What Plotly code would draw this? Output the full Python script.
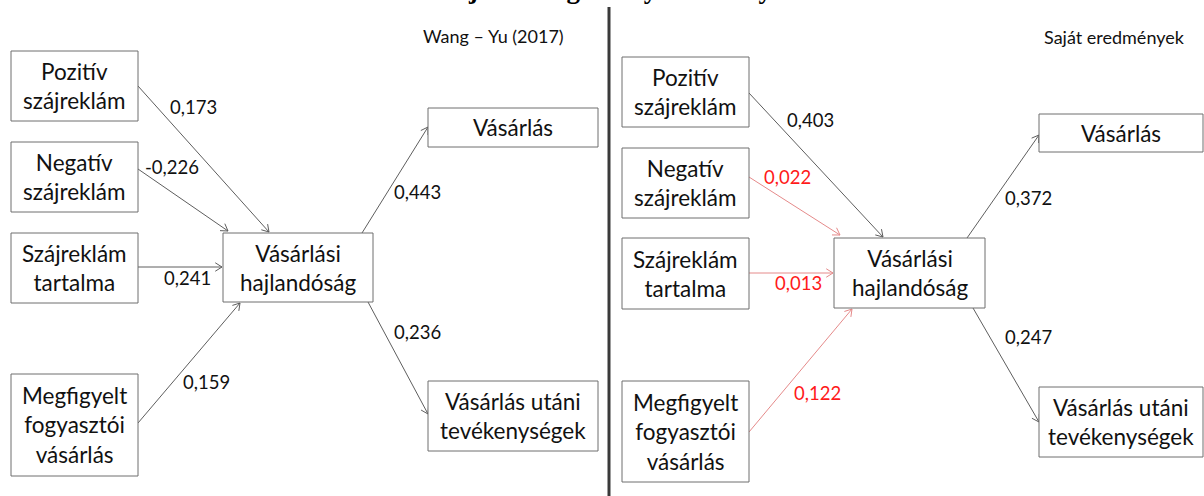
import math
import plotly.graph_objects as go

# ---------------- data ----------------
title_text = "A vásárlás – Vásárlási hajlandóság befolyásoló tényezői és hatása a vásárlásra"
panel_titles = ["Wang – Yu (2017)", "Saját eredmények"]
source_labels = ["Pozitív<br>szájreklám", "Negatív<br>szájreklám",
                 "Szájreklám<br>tartalma", "Megfigyelt<br>fogyasztói<br>vásárlás"]
mediator_label = "Vásárlási<br>hajlandóság"
outcome_labels = ["Vásárlás", "Vásárlás utáni<br>tevékenységek"]

wang_yu_in = [0.173, -0.226, 0.241, 0.159]
wang_yu_out = [0.443, 0.236]
own_in = [0.403, 0.022, 0.013, 0.122]
own_out = [0.372, 0.247]
own_in_significant = [True, False, False, False]

# ---------------- layout geometry (pixels) ----------------
W, H = 1204, 496
panels = [
    dict(
        src_boxes=[(11, 51, 138, 121), (11, 142, 138, 212), (11, 233, 138, 303), (11, 374, 138, 476)],
        med_box=(223, 233, 373, 302),
        out_boxes=[(428, 108, 598, 147), (428, 381, 598, 451)],
        in_edges=[((138, 86), (269, 232)), ((138, 169), (228, 231)), ((138, 267), (222, 267)), ((138, 423), (240, 303))],
        out_edges=[((362, 233), (428, 127)), ((368, 302), (428, 414))],
        in_lbl=[(193, 107), (172, 167), (187, 278), (206, 382)],
        out_lbl=[(417, 192), (417, 332)],
        title_pos=(566, 36, "right"),
    ),
    dict(
        src_boxes=[(622, 57, 749, 127), (622, 148, 749, 218), (622, 238, 749, 309), (622, 381, 749, 482)],
        med_box=(834, 238, 985, 308),
        out_boxes=[(1039, 114, 1203, 152), (1039, 387, 1203, 457)],
        in_edges=[((749, 93), (883, 237)), ((749, 177), (840, 235)), ((749, 273), (833, 273)), ((749, 432), (852, 309))],
        out_edges=[((967, 238), (1039, 135)), ((973, 308), (1039, 422))],
        in_lbl=[(810, 120), (787, 177), (798, 283), (817, 393)],
        out_lbl=[(1028, 198), (1028, 337)],
        title_pos=(1187, 37, "right"),
    ),
]

BOX_FONT = dict(family="Lato, 'Open Sans', sans-serif", size=22.5, color="#111111")
NUM_FONT = dict(family="Lato, 'Open Sans', sans-serif", size=18.5, color="#111111")
GRAY = "#5e5e5e"
RED_LINE = "#e58a8a"
RED_TEXT = "#ff1a1a"

fig = go.Figure()
shapes = []
annotations = []


def fmt(v):
    return f"{v:.3f}".replace(".", ",")


def add_box(box, label):
    x0, y0, x1, y1 = box
    shapes.append(dict(type="rect", xref="x", yref="y", x0=x0, y0=y0, x1=x1, y1=y1,
                       line=dict(color="#6e6e6e", width=1), fillcolor="white", layer="above"))
    annotations.append(dict(x=(x0 + x1) / 2, y=(y0 + y1) / 2, xref="x", yref="y", text=label,
                            showarrow=False, font=BOX_FONT, xanchor="center", yanchor="middle"))


def add_arrow(tail, head, color):
    (tx, ty), (hx, hy) = tail, head
    shapes.append(dict(type="line", xref="x", yref="y", x0=tx, y0=ty, x1=hx, y1=hy,
                       line=dict(color=color, width=1)))
    ang = math.atan2(hy - ty, hx - tx)
    L, a = 8, math.radians(32)
    p1 = (hx - L * math.cos(ang - a), hy - L * math.sin(ang - a))
    p2 = (hx - L * math.cos(ang + a), hy - L * math.sin(ang + a))
    shapes.append(dict(type="path", xref="x", yref="y",
                       path=f"M{p1[0]:.2f},{p1[1]:.2f} L{hx},{hy} L{p2[0]:.2f},{p2[1]:.2f}",
                       line=dict(color=color, width=1)))


def add_num(pos, value, color):
    annotations.append(dict(x=pos[0], y=pos[1], xref="x", yref="y", text=fmt(value), showarrow=False,
                            font=dict(NUM_FONT, color=color), xanchor="center", yanchor="middle"))


datasets = [
    (wang_yu_in, wang_yu_out, [True] * 4),
    (own_in, own_out, own_in_significant),
]

for p, (vin, vout, sig), ptitle in zip(panels, datasets, panel_titles):
    for i, lab in enumerate(source_labels):
        color_line = GRAY if sig[i] else RED_LINE
        color_txt = "#111111" if sig[i] else RED_TEXT
        add_arrow(p["in_edges"][i][0], p["in_edges"][i][1], color_line)
        add_num(p["in_lbl"][i], vin[i], color_txt)
    for j in range(2):
        add_arrow(p["out_edges"][j][0], p["out_edges"][j][1], GRAY)
        add_num(p["out_lbl"][j], vout[j], "#111111")
    for i, lab in enumerate(source_labels):
        add_box(p["src_boxes"][i], lab)
    add_box(p["med_box"], mediator_label)
    for j, lab in enumerate(outcome_labels):
        add_box(p["out_boxes"][j], lab)
    tx, ty, anc = p["title_pos"]
    annotations.append(dict(x=tx, y=ty, xref="x", yref="y", text=ptitle, showarrow=False,
                            font=dict(family="Lato, 'Open Sans', sans-serif", size=18, color="#111111"),
                            xanchor=anc, yanchor="middle"))

# divider
shapes.append(dict(type="line", xref="x", yref="y", x0=609, y0=7, x1=609, y1=H,
                   line=dict(color="#3a3a3a", width=3)))

# clipped title at top (in the source image only its lower part is visible)
annotations.append(dict(x=628, y=1, xref="x", yref="paper", text="<b>" + title_text + "</b>", showarrow=False,
                        font=dict(family="'Liberation Serif', 'Times New Roman', serif", size=27, color="#000000"),
                        xanchor="center", yanchor="middle", yshift=11))

fig.update_layout(
    width=W, height=H,
    margin=dict(l=0, r=0, t=0, b=0),
    paper_bgcolor="white", plot_bgcolor="white",
    xaxis=dict(range=[0, W], visible=False, fixedrange=True),
    yaxis=dict(range=[H, 0], visible=False, fixedrange=True),
    shapes=shapes, annotations=annotations, showlegend=False,
)
fig.add_trace(go.Scatter(x=[], y=[]))
fig.write_html("out.html", post_script="document.body.style.margin='0';",
               config={"displayModeBar": False})
